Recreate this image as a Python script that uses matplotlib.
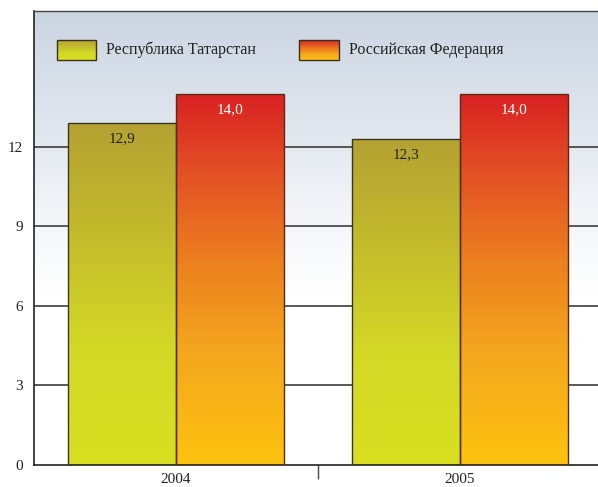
import numpy as np
import matplotlib.pyplot as plt
from matplotlib.colors import LinearSegmentedColormap

years = ["2004", "2005"]
series_names = ["Республика Татарстан", "Российская Федерация"]
tatarstan = [12.9, 12.3]
russia = [14.0, 14.0]

plt.rcParams["font.family"] = ["Liberation Serif", "DejaVu Serif"]

# vertical gradients, index 0 = bottom of bar, 1 = top
cmap_rt = LinearSegmentedColormap.from_list(
    "rt", [(0.0, "#d8e020"), (0.35, "#d3d826"), (0.7, "#c2b92c"), (1.0, "#b4a232")])
cmap_rf = LinearSegmentedColormap.from_list(
    "rf", [(0.0, "#fdc30f"), (0.3, "#f4a71e"), (0.55, "#ec7f1f"), (0.8, "#e24e25"), (1.0, "#d92022")])
cmap_bg = LinearSegmentedColormap.from_list(
    "bg", [(0.0, "#ffffff"), (0.38, "#ffffff"), (0.55, "#f3f5f9"), (0.75, "#e0e6ee"), (1.0, "#cbd5e2")])

fig = plt.figure(figsize=(5.98, 4.87), dpi=100)
ax = fig.add_axes([34 / 598, 22 / 487, 564 / 598, 454 / 487])

ymax = 17.13
xmin, xmax = -0.5, 1.486
grad = np.linspace(0, 1, 256).reshape(-1, 1)

# background fade
ax.imshow(grad, cmap=cmap_bg, origin="lower", aspect="auto",
          extent=[0, 1, 0, 1], transform=ax.transAxes, zorder=0)

for y in [3, 6, 9, 12]:
    ax.axhline(y, color="#3c3c3c", lw=1.2, zorder=1)

x = np.arange(len(years))
width = 0.38
bars_rt = ax.bar(x - width / 2, tatarstan, width, facecolor="none",
                 edgecolor="#3a3522", lw=1.0, zorder=3)
bars_rf = ax.bar(x + width / 2, russia, width, facecolor="none",
                 edgecolor="#5a2a12", lw=1.0, zorder=3)

for bars, cmap in [(bars_rt, cmap_rt), (bars_rf, cmap_rf)]:
    for b in bars:
        x0, w, h = b.get_x(), b.get_width(), b.get_height()
        im = ax.imshow(grad, cmap=cmap, origin="lower", aspect="auto",
                       extent=[x0, x0 + w, 0, h], zorder=2)
        im.set_clip_path(b)

for xi, v in zip(x, tatarstan):
    ax.text(xi - width / 2, v - 0.35, f"{v:.1f}".replace(".", ","),
            ha="center", va="top", fontsize=11, color="#222222", zorder=4)
for xi, v in zip(x, russia):
    ax.text(xi + width / 2, v - 0.35, f"{v:.1f}".replace(".", ","),
            ha="center", va="top", fontsize=11, color="white", zorder=4)

# legend with gradient swatches
for (lx0, lx1), cmap, name in [((0.041, 0.110), cmap_rt, series_names[0]),
                               ((0.470, 0.541), cmap_rf, series_names[1])]:
    ax.imshow(grad, cmap=cmap, origin="lower", aspect="auto",
              extent=[lx0, lx1, 0.892, 0.936], transform=ax.transAxes, zorder=4)
    ax.add_patch(plt.Rectangle((lx0, 0.892), lx1 - lx0, 0.044, transform=ax.transAxes,
                               fill=False, edgecolor="#3a3020", lw=1.0, zorder=5))
    ax.text(lx1 + 0.018, 0.914, name, transform=ax.transAxes, ha="left",
            va="center", fontsize=11.5, color="#222222", zorder=5)

ax.set_xlim(xmin, xmax)
ax.set_ylim(0, ymax)
ax.set_yticks([0, 3, 6, 9, 12])
ax.set_yticklabels(["0", "3", "6", "9", "12"], fontsize=11, color="#222222")
ax.set_xticks(x)
ax.set_xticklabels(years, fontsize=11, color="#222222")
ax.set_xticks([0.5], minor=True)
ax.tick_params(axis="both", which="major", length=0)
ax.tick_params(axis="y", pad=8)
ax.tick_params(axis="x", pad=6)
ax.tick_params(axis="x", which="minor", length=10, width=1.0, color="#444444")

for side in ["left", "bottom"]:
    ax.spines[side].set_color("#222222")
    ax.spines[side].set_linewidth(1.2)
ax.spines["top"].set_color("#444444")
ax.spines["top"].set_linewidth(1.0)
ax.spines["right"].set_visible(False)

fig.savefig("out.png", dpi=100)
